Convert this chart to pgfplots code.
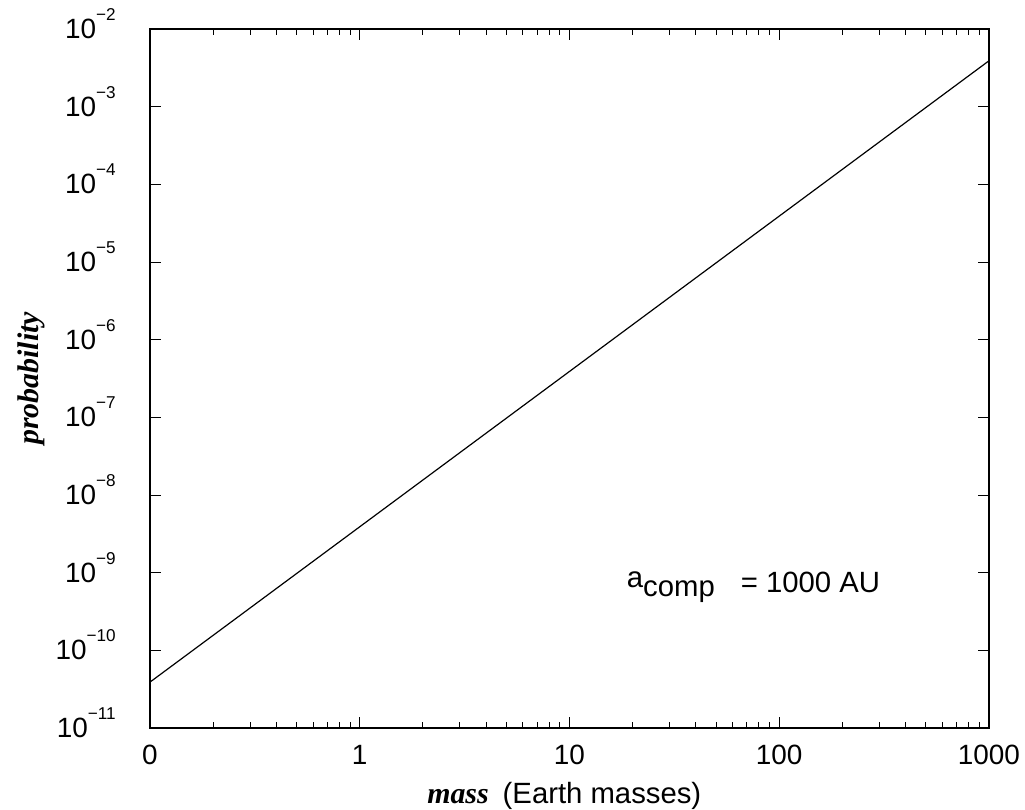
\documentclass[border=0pt]{standalone}
\usepackage{fontspec}
\setmainfont{Liberation Sans}
\newfontfamily\tms{Liberation Serif}
\usepackage{pgfplots}
\pgfplotsset{compat=1.18}
\newcommand\myTickFont{\fontsize{14pt}{16pt}\selectfont}
\newcommand\myPow[1]{\myTickFont 10\smash{\raisebox{9bp}{\fontsize{8.6pt}{9pt}\selectfont −#1}}}
\newcommand\myMainFont{\fontsize{14.7pt}{17pt}\selectfont}
\newcommand\myLabFont{\tms\bfseries\itshape\fontsize{15pt}{17pt}\selectfont}
\begin{document}
\myMainFont
\begin{tikzpicture}
\begin{axis}[
  /pgf/number format/assume math mode=true,
  scale only axis, width=419.5bp, height=349.5bp,
  xmode=log, ymode=log,
  xmin=0.1, xmax=1000, ymin=1e-11, ymax=1e-2,
  xtick={0.1,1,10,100,1000},
  xticklabels={{\myTickFont 0},{\myTickFont 1},{\myTickFont 10},{\myTickFont 100},{\myTickFont 1000}},
  ytick={1e-11,1e-10,1e-9,1e-8,1e-7,1e-6,1e-5,1e-4,1e-3,1e-2},
  yticklabels={{\myPow{11}\hspace{4.5bp}},{\myPow{10}\hspace{4.5bp}},{\myPow{9}},{\myPow{8}},{\myPow{7}},{\myPow{6}},{\myPow{5}},{\myPow{4}},{\myPow{3}},{\myPow{2}}},
  yminorticks=false,
  axis line style={line width=0.85bp},
  every tick/.style={black, line width=0.5bp},
  major tick length=5.3bp, minor tick length=3bp,
  tick align=inside,
  tick label style={font=\myTickFont},
  xticklabel style={inner sep=0pt, anchor=north, yshift=-8.5bp},
  yticklabel style={inner sep=0pt, anchor=east, xshift=-17bp},
  xlabel={{\myLabFont mass}\hspace{7bp}(Earth masses)},
  xlabel style={at={(rel axis cs:0.330,0)}, anchor=base west, yshift=-37.5bp, inner sep=0pt, font=\myMainFont},
  ylabel={\myLabFont probability},
  ylabel style={at={(rel axis cs:-0.1418,0.5)}, anchor=center, inner sep=0pt},
]
\addplot[black, line width=0.6bp] coordinates {(0.1,3.9e-11) (1,3.9e-9) (10,3.9e-7) (100,3.9e-5) (1000,3.9e-3)};
\node[anchor=base west, inner sep=0pt, font=\myMainFont] at (rel axis cs:0.568,0.194)
  {\raisebox{2.5bp}{a}\raisebox{-2bp}{comp}\hspace{13bp}= 1000 AU};
\end{axis}
\pgfresetboundingbox
\path (-75bp,-41bp) rectangle (437.5bp,364bp);
\end{tikzpicture}
\end{document}
